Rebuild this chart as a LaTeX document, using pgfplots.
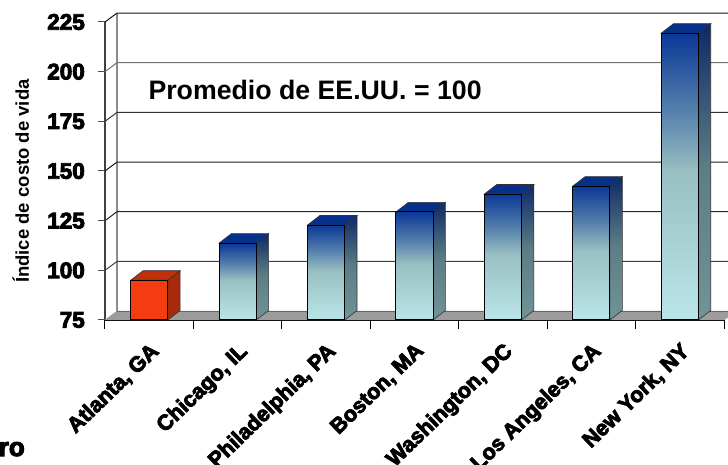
\documentclass[border=0pt]{standalone}
\usepackage{fontspec}
\setmainfont{Liberation Sans}
\newfontfamily\fatfont[FakeBold=4]{Liberation Sans Bold}
\usepackage{pgfplots}
\pgfplotsset{compat=1.18}

% bar shadings, bottom of the bar at 25bp and top at 75bp
\pgfdeclareverticalshading{bluefront}{100bp}{
  rgb(0bp)=(0.73,0.90,0.91); rgb(25bp)=(0.73,0.90,0.91);
  rgb(51bp)=(0.60,0.75,0.76); rgb(62bp)=(0.32,0.49,0.67);
  rgb(75bp)=(0.04,0.22,0.59); rgb(100bp)=(0.04,0.22,0.59)}
\pgfdeclareverticalshading{blueside}{100bp}{
  rgb(0bp)=(0.44,0.58,0.59); rgb(25bp)=(0.44,0.58,0.59);
  rgb(51bp)=(0.36,0.49,0.52); rgb(62bp)=(0.22,0.34,0.47);
  rgb(75bp)=(0.05,0.16,0.40); rgb(100bp)=(0.05,0.16,0.40)}
\definecolor{floorgray}{HTML}{9C9C9C}
\definecolor{redfront}{HTML}{F33C10}
\definecolor{redside}{HTML}{A82A0A}
\definecolor{redtop}{HTML}{BF3008}
\definecolor{bluetop}{HTML}{06308A}

\tikzset{
  blue front/.style={shade,shading=bluefront,draw=black,line width=1pt},
  blue side/.style={shade,shading=blueside,draw=black!80,line width=0.6pt},
  blue top/.style={fill=bluetop,draw=black!80,line width=0.6pt},
  red front/.style={fill=redfront,draw=black,line width=1pt},
  red side/.style={fill=redside,draw=black!80,line width=0.6pt},
  red top/.style={fill=redtop,draw=black!80,line width=0.6pt},
}

% one box: centre, value, colour; depth is 0.14 in x and 4.8 in y
\newcommand{\cubebar}[3]{
  \pgfmathsetmacro{\xl}{#1-0.21}
  \pgfmathsetmacro{\xr}{#1+0.21}
  \pgfmathsetmacro{\xbl}{#1-0.07}
  \pgfmathsetmacro{\xbr}{#1+0.35}
  \pgfmathsetmacro{\yb}{#2+4.8}
  \addplot[#3 side] coordinates {(\xr,75) (\xbr,79.8) (\xbr,\yb) (\xr,#2)} --cycle;
  \addplot[#3 top] coordinates {(\xl,#2) (\xbl,\yb) (\xbr,\yb) (\xr,#2)} --cycle;
  \addplot[#3 front] coordinates {(\xl,75) (\xl,#2) (\xr,#2) (\xr,75)} --cycle;
}
\newcommand{\backgrid}[2]{
  \pgfmathsetmacro{\yb}{#1+4.5}
  \addplot[#2,line width=1pt] coordinates {(-0.5,#1) (-0.364,\yb) (6.545,\yb)};
}

\begin{document}
\begin{tikzpicture}
\useasboundingbox (-105pt,-145pt) rectangle (623pt,320pt);
\begin{axis}[
  scale only axis,
  width=619pt,height=298pt,
  clip=false,
  xmin=-0.5,xmax=6.5,ymin=75,ymax=225,
  axis x line=bottom,axis y line=left,
  axis line style={-},
  x axis line style={black,line width=1.2pt},
  y axis line style={black!75,line width=1.6pt},
  tick align=outside,
  xtick={0,1,2,3,4,5,6},
  xticklabels={{Atlanta, GA},{Chicago, IL},{Philadelphia, PA},{Boston, MA},{Washington, DC},{Los Angeles, CA},{New York, NY}},
  minor xtick={-0.5,0.5,1.5,2.5,3.5,4.5,5.5,6.5},
  minor tick length=9pt,
  major x tick style={draw=none},
  minor x tick style={draw=black,line width=1pt},
  ytick={75,100,125,150,175,200,225},
  major tick length=7pt,
  y tick style={draw=black!70,line width=1pt},
  /pgf/number format/assume math mode=true,
  yticklabel style={font=\fatfont\fontsize{22.5}{24}\selectfont,inner sep=0pt,xshift=-13pt},
  xticklabel style={font=\fatfont\fontsize{21.5}{24}\selectfont,rotate=44,anchor=north east,inner sep=0pt,xshift=-10pt,yshift=-10pt},
  ylabel={Índice de costo de vida},
  every axis y label/.style={at={(rel axis cs:-0.136,0.466)},rotate=90,anchor=center,font=\bfseries\fontsize{18.5}{21}\selectfont},
]
% floor and back wall
\addplot[fill=floorgray,draw=floorgray] coordinates {(-0.5,75) (-0.364,79.5) (6.545,79.5) (6.545,76.5) (6.5,75)} --cycle;
\addplot[black!45,line width=1.2pt] coordinates {(-0.364,79.5) (-0.364,229.5)};
\addplot[black!60,line width=0.8pt] coordinates {(-0.364,79.5) (6.545,79.5)};
\backgrid{100}{black!75}
\backgrid{125}{black!85}
\backgrid{150}{black!90}
\backgrid{175}{black!80}
\backgrid{200}{black!55}
\backgrid{225}{black!90}

\cubebar{0}{95}{red}
\cubebar{1}{113.7}{blue}
\cubebar{2}{122.8}{blue}
\cubebar{3}{129.4}{blue}
\cubebar{4}{138.4}{blue}
\cubebar{5}{142.4}{blue}
\cubebar{6}{219.4}{blue}

\node[font=\bfseries\fontsize{26.7}{30}\selectfont,anchor=west,inner sep=0pt] at (axis cs:-0.01,191) {Promedio de EE.UU. = 100};
\node[font=\fatfont\fontsize{26}{30}\selectfont,anchor=east,inner sep=0pt] at (axis cs:-1.405,10) {ro};
\end{axis}
\end{tikzpicture}
\end{document}
